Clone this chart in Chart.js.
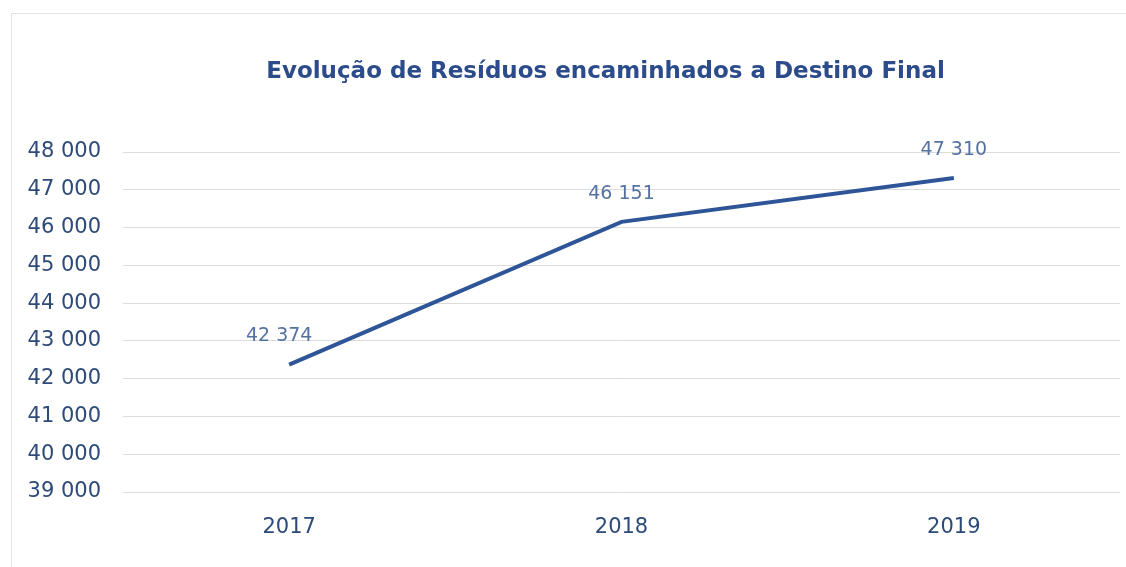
<!DOCTYPE html>
<html>
<head>
<meta charset="utf-8">
<script src="https://cdn.jsdelivr.net/npm/chart.js@4/dist/chart.umd.min.js"></script>
<style>
  html, body { margin: 0; padding: 0; background: #fff; }
  #wrap { position: relative; width: 1126px; height: 567px; }
  #frame { position: absolute; left: 11px; top: 13px; right: 0; bottom: 0;
           border-left: 1px solid #dfe3ea; border-top: 1px solid #e3e3e3; pointer-events: none; }
</style>
</head>
<body>
<div id="wrap">
  <canvas id="myChart" width="1126" height="567"></canvas>
  <div id="frame"></div>
</div>
<script>
const years = ["2017", "2018", "2019"];
const residuos = [42374, 46151, 47310];
const yMin = 39000;
const yMax = 48000;
const yStep = 1000;
const chartTitle = "Evolução de Resíduos encaminhados a Destino Final";

const fmt = v => Math.round(v).toString().replace(/\B(?=(\d{3})+(?!\d))/g, " ");

// draws the value over each point
const valueLabels = {
  id: "valueLabels",
  afterDatasetsDraw(chart) {
    const ctx = chart.ctx;
    const meta = chart.getDatasetMeta(0);
    ctx.save();
    ctx.font = "19px 'DejaVu Sans', Verdana, sans-serif";
    ctx.fillStyle = "#5571a2";
    ctx.textAlign = "center";
    ctx.textBaseline = "middle";
    meta.data.forEach((pt, i) => {
      ctx.fillText(fmt(residuos[i]), pt.x - (i === 0 ? 10 : 0), pt.y - 28);
    });
    ctx.restore();
  }
};

// title sits a bit right of the canvas centre, like the original
const offsetTitle = {
  id: "offsetTitle",
  afterDraw(chart) {
    const ctx = chart.ctx;
    const a = chart.chartArea;
    ctx.save();
    ctx.font = "bold 23px 'DejaVu Sans', Verdana, sans-serif";
    ctx.fillStyle = "#2b4b8a";
    ctx.textAlign = "center";
    ctx.textBaseline = "middle";
    ctx.fillText(chartTitle, (a.left + a.right) / 2 - 16, 72);
    ctx.restore();
  }
};

const ctx = document.getElementById("myChart").getContext("2d");
new Chart(ctx, {
  type: "line",
  data: {
    labels: years,
    datasets: [{
      data: residuos,
      borderColor: "#2e5597",
      borderWidth: 4,
      pointRadius: 0,
      tension: 0
    }]
  },
  options: {
    responsive: false,
    animation: false,
    layout: { padding: { left: 0, right: 6, top: 152, bottom: 29 } },
    plugins: {
      legend: { display: false },
      tooltip: { enabled: false },
      title: { display: false }
    },
    scales: {
      x: {
        offset: true,
        grid: { display: false },
        border: { display: false },
        ticks: {
          color: "#2d4a78",
          font: { family: "'DejaVu Sans', Verdana, sans-serif", size: 21 },
          padding: 15
        },
        afterFit: s => { s.height = 46; }
      },
      y: {
        min: yMin,
        max: yMax,
        border: { display: false },
        grid: { color: "#dcdcdc", lineWidth: 1, drawTicks: false },
        ticks: {
          stepSize: yStep,
          color: "#2d4a78",
          font: { family: "'DejaVu Sans', Verdana, sans-serif", size: 21 },
          padding: 22,
          callback: v => fmt(v)
        },
        afterFit: s => { s.width = 123; }
      }
    }
  },
  plugins: [valueLabels, offsetTitle]
});
</script>
</body>
</html>
